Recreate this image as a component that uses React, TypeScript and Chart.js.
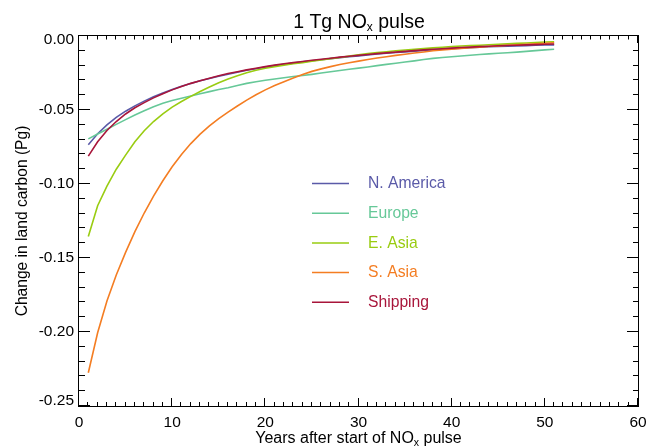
import React, { useEffect, useRef } from 'react';
import { Chart, registerables } from 'chart.js';

Chart.register(...registerables);

// Years after the start of the pulse
const years = [
  1, 2, 3, 4, 5, 6, 7, 8, 9, 10, 11, 12, 13, 14, 15, 16, 17, 18, 19, 20,
  21, 22, 23, 24, 25, 26, 27, 28, 29, 30, 31, 32, 33, 34, 35, 36, 37, 38, 39, 40,
  41, 42, 43, 44, 45, 46, 47, 48, 49, 50, 51,
];

// Change in land carbon (Pg) for each source region
const northAmerica = [
  -0.0735, -0.066, -0.06, -0.055, -0.0508, -0.0472, -0.044, -0.0411, -0.0385, -0.0361,
  -0.034, -0.0321, -0.0303, -0.0287, -0.0272, -0.0258, -0.0245, -0.0232, -0.0221, -0.021,
  -0.02, -0.0191, -0.0183, -0.0175, -0.0167, -0.016, -0.0153, -0.0146, -0.014, -0.0134,
  -0.0128, -0.0122, -0.0117, -0.0112, -0.0107, -0.0102, -0.0097, -0.0093, -0.0089, -0.0085,
  -0.0082, -0.0079, -0.0076, -0.0073, -0.0071, -0.0069, -0.0067, -0.0065, -0.0063, -0.0061,
  -0.006,
];

const europe = [
  -0.0695, -0.0662, -0.063, -0.0597, -0.0565, -0.0534, -0.0505, -0.0478, -0.0455, -0.0436,
  -0.042, -0.0405, -0.039, -0.0376, -0.0362, -0.035, -0.0335, -0.032, -0.0309, -0.0299,
  -0.029, -0.0282, -0.0274, -0.0267, -0.0259, -0.025, -0.0241, -0.0233, -0.0225, -0.0217,
  -0.0209, -0.02, -0.0192, -0.0184, -0.0176, -0.0168, -0.0159, -0.0151, -0.0145, -0.014,
  -0.0135, -0.013, -0.0125, -0.0121, -0.0117, -0.0113, -0.0109, -0.0104, -0.0099, -0.0094,
  -0.009,
];

const eastAsia = [
  -0.1355, -0.1147, -0.1014, -0.09, -0.0805, -0.0715, -0.064, -0.0578, -0.0526, -0.0481,
  -0.0443, -0.0408, -0.0375, -0.0345, -0.0316, -0.029, -0.0268, -0.0249, -0.0232, -0.0218,
  -0.0207, -0.0197, -0.0188, -0.018, -0.0171, -0.0162, -0.0153, -0.0145, -0.0136, -0.0127,
  -0.0119, -0.0112, -0.0106, -0.01, -0.0095, -0.009, -0.0085, -0.008, -0.0076, -0.0072,
  -0.0068, -0.0065, -0.0062, -0.0059, -0.0056, -0.0053, -0.005, -0.0047, -0.0044, -0.0041,
  -0.0039,
];

const southAsia = [
  -0.2275, -0.2005, -0.179, -0.1615, -0.1462, -0.1322, -0.1196, -0.1082, -0.0978, -0.0884,
  -0.08, -0.0727, -0.0663, -0.0607, -0.0558, -0.0514, -0.0473, -0.0433, -0.0397, -0.0364,
  -0.0335, -0.0309, -0.0284, -0.026, -0.0239, -0.0222, -0.0207, -0.0193, -0.0181, -0.017,
  -0.0159, -0.0149, -0.014, -0.0131, -0.0123, -0.0115, -0.0108, -0.01, -0.0094, -0.0089,
  -0.0084, -0.0079, -0.0075, -0.0071, -0.0067, -0.0063, -0.0059, -0.0056, -0.0052, -0.0049,
  -0.0046,
];

const shipping = [
  -0.0812, -0.0715, -0.0638, -0.0578, -0.0527, -0.0485, -0.045, -0.0418, -0.039, -0.0364,
  -0.0341, -0.032, -0.0302, -0.0285, -0.0268, -0.0254, -0.0241, -0.0229, -0.0218, -0.0207,
  -0.0197, -0.0188, -0.018, -0.0172, -0.0164, -0.0157, -0.015, -0.0143, -0.0137, -0.0131,
  -0.0125, -0.0119, -0.0114, -0.0109, -0.0104, -0.0099, -0.0094, -0.009, -0.0086, -0.0082,
  -0.0078, -0.0075, -0.0072, -0.0069, -0.0066, -0.0064, -0.0062, -0.006, -0.0058, -0.0056,
  -0.0054,
];

const seriesNames = ['N. America', 'Europe', 'E. Asia', 'S. Asia', 'Shipping'];
const seriesValues = [northAmerica, europe, eastAsia, southAsia, shipping];
const seriesColors = ['#5a5aa8', '#66c898', '#99cc11', '#f47d22', '#a8153a'];

// Axis ticks
const xTickValues = [0, 10, 20, 30, 40, 50, 60];
const xTickLabels = ['0', '10', '20', '30', '40', '50', '60'];
const xMinorStep = 1;
const yTickValues = [0, -0.05, -0.1, -0.15, -0.2, -0.25];
const yTickLabels = ['0.00', '-0.05', '-0.10', '-0.15', '-0.20', '-0.25'];
const yMinorStep = 0.01;

const FONT = "'Liberation Sans', Arial, Helvetica, sans-serif";

// Draws "main" + subscript + "rest" centred on cx at baseline y
function drawSubscriptText(
  ctx: CanvasRenderingContext2D,
  parts: [string, string, string],
  cx: number,
  y: number,
  size: number,
  subSize: number,
  subDrop: number,
) {
  const [a, sub, b] = parts;
  ctx.font = `${size}px ${FONT}`;
  const wa = ctx.measureText(a).width;
  const wb = ctx.measureText(b).width;
  ctx.font = `${subSize}px ${FONT}`;
  const ws = ctx.measureText(sub).width;
  let x = cx - (wa + ws + wb) / 2;
  ctx.textAlign = 'left';
  ctx.textBaseline = 'alphabetic';
  ctx.font = `${size}px ${FONT}`;
  ctx.fillText(a, x, y);
  x += wa;
  ctx.font = `${subSize}px ${FONT}`;
  ctx.fillText(sub, x, y + subDrop);
  x += ws;
  ctx.font = `${size}px ${FONT}`;
  ctx.fillText(b, x, y);
}

const framePlugin = {
  id: 'idlFrame',
  afterDraw(chart: any) {
    const ctx: CanvasRenderingContext2D = chart.ctx;
    const xs = chart.scales.x;
    const ys = chart.scales.y;
    const { left, right, top, bottom } = chart.chartArea;
    ctx.save();
    ctx.strokeStyle = '#000';
    ctx.fillStyle = '#000';
    ctx.lineWidth = 1;

    // Frame
    ctx.strokeRect(Math.round(left) - 0.5, Math.round(top) - 0.5, Math.round(right - left) + 1, Math.round(bottom - top) + 1);

    // X ticks (bottom and top, pointing inward)
    ctx.beginPath();
    const xCount = Math.round((xs.max - xs.min) / xMinorStep);
    for (let k = 0; k <= xCount; k++) {
      const v = xs.min + k * xMinorStep;
      const major = xTickValues.some((t) => Math.abs(t - v) < 1e-9);
      const px = Math.round(xs.getPixelForValue(v)) - 0.5;
      ctx.moveTo(px, bottom);
      ctx.lineTo(px, bottom - (major ? 8 : 4));
      ctx.moveTo(px, top);
      ctx.lineTo(px, top + (major ? 7 : 3.5));
    }
    // Y ticks (left and right, pointing inward)
    const yCount = Math.round((ys.max - ys.min) / yMinorStep);
    for (let k = 0; k <= yCount; k++) {
      const v = ys.max - k * yMinorStep;
      const major = yTickValues.some((t) => Math.abs(t - v) < 1e-9);
      const py = Math.round(ys.getPixelForValue(v)) - 0.5;
      ctx.moveTo(left, py);
      ctx.lineTo(left + (major ? 11 : 6), py);
      ctx.moveTo(right, py);
      ctx.lineTo(right - (major ? 11 : 5), py);
    }
    ctx.stroke();

    // Tick labels
    ctx.font = `15.5px ${FONT}`;
    ctx.textAlign = 'center';
    ctx.textBaseline = 'alphabetic';
    xTickValues.forEach((v, i) => {
      ctx.fillText(xTickLabels[i], xs.getPixelForValue(v), bottom + 21);
    });
    ctx.textAlign = 'right';
    ctx.textBaseline = 'middle';
    yTickValues.forEach((v, i) => {
      const py = Math.min(Math.max(ys.getPixelForValue(v), top + 4), bottom - 5);
      ctx.fillText(yTickLabels[i], left - 5, py);
    });

    // Titles
    drawSubscriptText(ctx, ['1 Tg NO', 'x', ' pulse'], (left + right) / 2 + 0.5, 28, 19.5, 12, 3);
    drawSubscriptText(ctx, ['Years after start of NO', 'x', ' pulse'], (left + right) / 2, 443, 16, 10.5, 3);

    ctx.save();
    ctx.translate(26.5, (top + bottom) / 2);
    ctx.rotate(-Math.PI / 2);
    ctx.font = `15.6px ${FONT}`;
    ctx.textAlign = 'center';
    ctx.textBaseline = 'alphabetic';
    ctx.fillText('Change in land carbon (Pg)', 0, 0);
    ctx.restore();

    // Legend
    chart.data.datasets.forEach((ds: any, i: number) => {
      const y = 183.5 + i * 29.7;
      ctx.strokeStyle = ds.borderColor;
      ctx.lineWidth = 1.5;
      ctx.beginPath();
      ctx.moveTo(312, y);
      ctx.lineTo(349, y);
      ctx.stroke();
      ctx.fillStyle = ds.borderColor;
      ctx.font = `15.7px ${FONT}`;
      ctx.textAlign = 'left';
      ctx.textBaseline = 'middle';
      ctx.fillText(ds.label, 368, y + 0.5);
    });

    ctx.restore();
  },
};

export default function App() {
  const canvasRef = useRef<HTMLCanvasElement | null>(null);

  useEffect(() => {
    if (!canvasRef.current) return;
    const chart = new Chart(canvasRef.current, {
      type: 'line',
      data: {
        datasets: seriesNames.map((name, i) => ({
          label: name,
          data: years.map((yr, j) => ({ x: yr, y: seriesValues[i][j] })),
          borderColor: seriesColors[i],
          backgroundColor: seriesColors[i],
          borderWidth: 1.6,
          pointRadius: 0,
          tension: 0,
          fill: false,
          order: seriesNames.length - 1 - i,
        })),
      },
      options: {
        animation: false,
        responsive: false,
        layout: { padding: { left: 79, right: 21, top: 36, bottom: 41 } },
        scales: {
          x: { type: 'linear', min: 0, max: 60, display: false },
          y: { type: 'linear', min: -0.25, max: 0, display: false },
        },
        plugins: {
          legend: { display: false },
          tooltip: { enabled: false },
          title: { display: false },
        },
      },
      plugins: [framePlugin],
    });
    return () => chart.destroy();
  }, []);

  return (
    <div style={{ position: 'absolute', left: 0, top: 0, width: 659, height: 447, background: '#fff' }}>
      <canvas ref={canvasRef} width={659} height={447} style={{ display: 'block' }} />
    </div>
  );
}
